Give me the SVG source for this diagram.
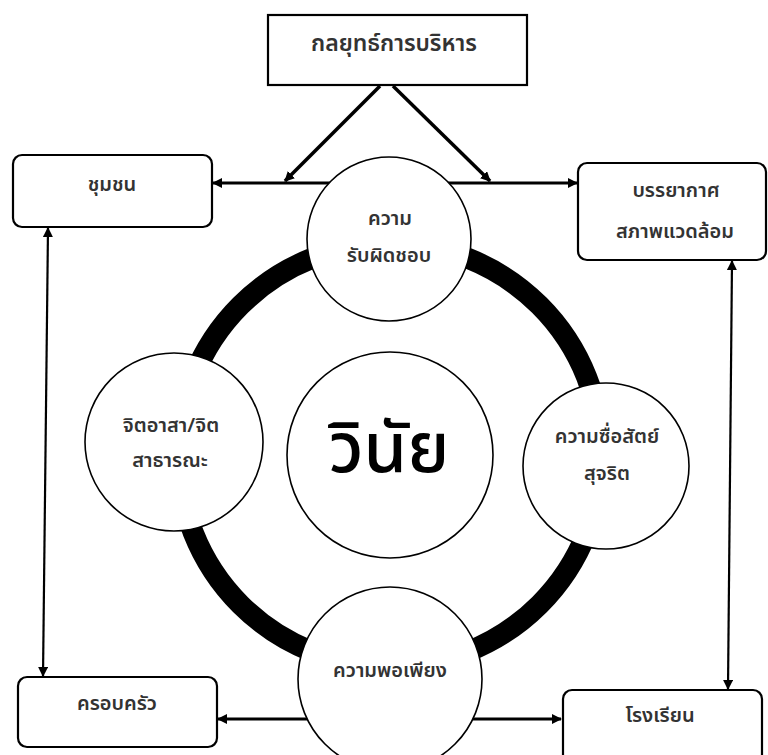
<svg xmlns="http://www.w3.org/2000/svg" width="768" height="755" viewBox="0 0 768 755">
<defs>
<marker id="ah" viewBox="0 0 10 10" refX="9" refY="5" markerWidth="10" markerHeight="10" markerUnits="userSpaceOnUse" orient="auto-start-reverse">
<path d="M0,0 L10,5 L0,10 z" fill="#000"/>
</marker>
<style>
.box{fill:#fff;stroke:#000;stroke-width:2.2}
.circ{fill:#fff;stroke:#000;stroke-width:1.6}
.t{font-family:"Noto Sans Thai","Noto Sans Thai UI","Loma","Tahoma","DejaVu Sans",sans-serif;font-size:20px;font-weight:600;fill:#333;text-anchor:middle}
.big{font-size:70px;font-weight:500;fill:#000}
.top{font-size:23px}
.ln{stroke:#000;fill:none}
</style>
</defs>
<rect width="768" height="755" fill="#fff"/>
<g id="connectors">
<line class="ln" x1="380" y1="86" x2="285" y2="181" stroke-width="3.5" marker-end="url(#ah)"/>
<line class="ln" x1="393" y1="86" x2="490" y2="181" stroke-width="3.5" marker-end="url(#ah)"/>
<line class="ln" x1="213" y1="183" x2="577" y2="183" stroke-width="3" marker-start="url(#ah)" marker-end="url(#ah)"/>
<line class="ln" x1="48" y1="228" x2="43" y2="676" stroke-width="2.2" marker-start="url(#ah)" marker-end="url(#ah)"/>
<line class="ln" x1="732" y1="261" x2="728" y2="689" stroke-width="2.2" marker-start="url(#ah)" marker-end="url(#ah)"/>
<line class="ln" x1="218" y1="719" x2="561" y2="719" stroke-width="3" marker-start="url(#ah)" marker-end="url(#ah)"/>
</g>
<g id="ring">
<circle cx="390" cy="455" r="211.5" fill="none" stroke="#000" stroke-width="21"/>
</g>
<g id="n-strategy">
<rect class="box" x="268" y="15" width="259" height="70"/>
<text class="t top" x="394" y="51">กลยุทธ์การบริหาร</text>
</g>
<g id="n-community">
<rect class="box" x="13" y="155" width="199" height="72" rx="9"/>
<text class="t" x="112" y="191">ชุมชน</text>
</g>
<g id="n-environment">
<rect class="box" x="578" y="163" width="188" height="97" rx="9"/>
<text class="t" x="676" y="197">บรรยากาศ</text>
<text class="t" x="675" y="238">สภาพแวดล้อม</text>
</g>
<g id="n-family">
<rect class="box" x="18" y="677" width="199" height="70" rx="9"/>
<text class="t" x="117" y="710">ครอบครัว</text>
</g>
<g id="n-school">
<rect class="box" x="563" y="690" width="199" height="75" rx="9"/>
<text class="t" x="660" y="722">โรงเรียน</text>
</g>
<g id="n-responsibility">
<circle class="circ" cx="389" cy="239" r="82"/>
<text class="t" x="390" y="225">ความ</text>
<text class="t" x="389" y="262">รับผิดชอบ</text>
</g>
<g id="n-volunteer">
<circle class="circ" cx="174" cy="442" r="89"/>
<text class="t" x="171" y="432">จิตอาสา/จิต</text>
<text class="t" x="170" y="467">สาธารณะ</text>
</g>
<g id="n-honesty">
<circle class="circ" cx="606" cy="466" r="83"/>
<text class="t" x="607" y="443">ความซื่อสัตย์</text>
<text class="t" x="607" y="480">สุจริต</text>
</g>
<g id="n-sufficiency">
<circle class="circ" cx="390" cy="679" r="92"/>
<text class="t" x="390" y="677">ความพอเพียง</text>
</g>
<g id="n-discipline">
<circle class="circ" cx="390" cy="455" r="103"/>
<text class="t big" x="389" y="472">วินัย</text>
</g>
</svg>
